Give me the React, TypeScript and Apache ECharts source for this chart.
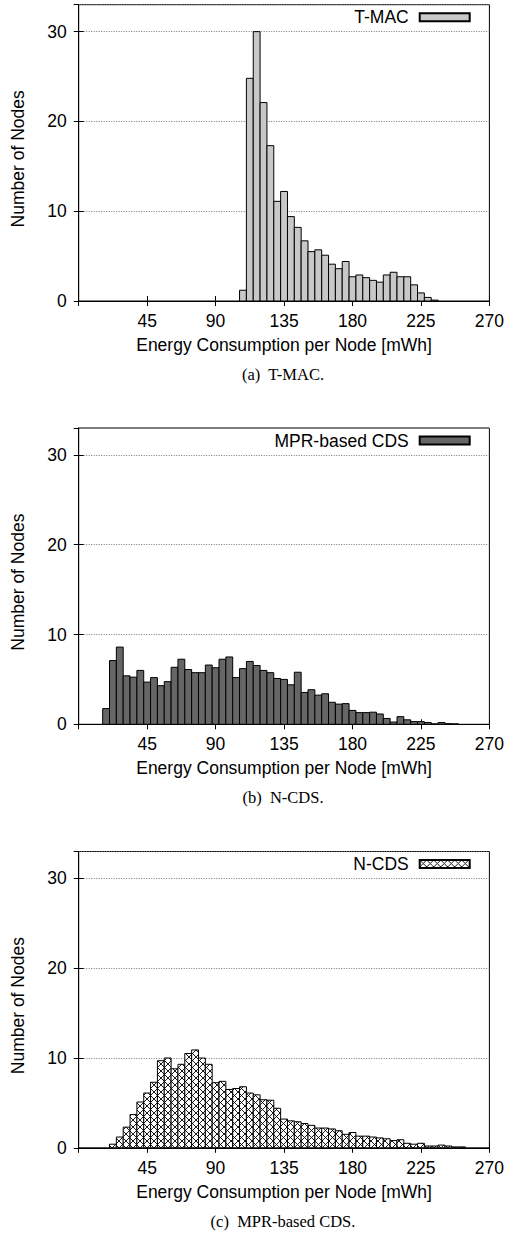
import React, { useEffect, useRef } from 'react';
import * as echarts from 'echarts';

// Histogram bin width (mWh); bin k is centred at k * BIN_WIDTH
const BIN_WIDTH = 4.5;
const xTickValues = [0, 45, 90, 135, 180, 225, 270];
const yTickValues = [0, 10, 20, 30];

const seriesNames = ['T-MAC', 'MPR-based CDS', 'N-CDS'];
const captions = ['(a)  T-MAC.', '(b)  N-CDS.', '(c)  MPR-based CDS.'];

// counts per bin, k = 0 .. 60
const tmacCounts = [
  0, 0, 0, 0, 0, 0, 0, 0, 0, 0, 0, 0, 0, 0, 0, 0, 0, 0, 0, 0, 0, 0, 0, 0,
  1.2, 24.8, 30, 22.1, 17.3, 11.1, 12.2, 9.4, 8.2, 6.7, 5.5, 5.7, 5.1, 4.1, 3.6, 4.4,
  2.7, 2.9, 2.6, 2.3, 2.1, 2.9, 3.2, 2.7, 2.7, 1.8, 0.9, 0.4, 0.1,
  0, 0, 0, 0, 0, 0, 0, 0,
];
const mprCounts = [
  0, 0, 0, 0,
  1.75, 7.1, 8.6, 5.4, 5.25, 6.0, 4.7, 5.2, 4.3, 4.75, 6.35, 7.25, 6.1, 5.75, 5.75, 6.6,
  6.3, 7.25, 7.5, 5.2, 6.2, 7.0, 6.55, 6.0, 5.75, 5.1, 5.0, 4.4, 5.8, 3.55, 3.85, 3.25,
  3.4, 2.45, 2.25, 2.3, 1.55, 1.3, 1.3, 1.35, 1.15, 0.65, 0.25, 0.85, 0.5, 0.3, 0.3, 0.2,
  0.05, 0.2, 0.07, 0.05,
  0, 0, 0, 0, 0,
];
const ncdsCounts = [
  0, 0, 0, 0, 0,
  0.4, 1.2, 2.3, 3.7, 5.1, 6.1, 7.3, 9.7, 10.0, 8.8, 9.3, 10.5, 10.9, 10.0, 9.3, 7.25,
  7.4, 6.5, 6.6, 6.8, 6.1, 5.9, 5.35, 5.3, 4.4, 3.2, 3.0, 2.9, 2.7, 2.5, 2.2, 2.2,
  2.1, 1.9, 1.5, 1.7, 1.3, 1.3, 1.2, 1.1, 1.0, 0.8, 0.9, 0.5, 0.4, 0.5, 0.2, 0.2,
  0.3, 0.2, 0.1, 0.1,
  0, 0, 0, 0,
];

const FONT = '"Liberation Sans", Arial, Helvetica, sans-serif';
const SERIF = '"Liberation Serif", "Times New Roman", serif';

export default function App() {
  const ref = useRef<HTMLDivElement>(null);

  useEffect(() => {
    const chart = echarts.init(ref.current!, null, { renderer: 'svg' });

    const cv = document.createElement('canvas');
    cv.width = 7;
    cv.height = 7;
    const ctx = cv.getContext('2d')!;
    ctx.fillStyle = '#ffffff';
    ctx.fillRect(0, 0, 7, 7);
    ctx.strokeStyle = '#000000';
    ctx.lineWidth = 0.9;
    ctx.beginPath();
    ctx.moveTo(0, 0);
    ctx.lineTo(7, 7);
    ctx.moveTo(7, 0);
    ctx.lineTo(0, 7);
    ctx.stroke();
    const hatch: any = { image: cv, repeat: 'repeat', imageWidth: 7, imageHeight: 7 };

    const fills: any[] = ['#c8c8c8', '#666666', hatch];
    const allCounts = [tmacCounts, mprCounts, ncdsCounts];
    const tops = [4.7, 428, 851.5];
    const plotH = 296.3;
    const plotLeft = 78.7;
    const plotW = 413;

    const grids: any[] = [];
    const xAxes: any[] = [];
    const yAxes: any[] = [];
    const series: any[] = [];
    const legends: any[] = [];
    const graphics: any[] = [];

    for (let i = 0; i < 3; i++) {
      grids.push({
        left: plotLeft,
        width: plotW,
        top: tops[i],
        height: plotH,
        show: true,
        borderColor: '#000',
        borderWidth: 1,
        backgroundColor: 'transparent',
      });
      const xBase = {
        type: 'value',
        gridIndex: i,
        min: xTickValues[0],
        max: xTickValues[xTickValues.length - 1],
        interval: 45,
        axisLine: { show: true, lineStyle: { color: '#000', width: 1 } },
        axisTick: { show: true, inside: true, length: 5, lineStyle: { color: '#000' } },
        splitLine: { show: false },
      };
      xAxes.push({
        ...xBase,
        position: 'bottom',
        name: 'Energy Consumption per Node [mWh]',
        nameLocation: 'middle',
        nameGap: 35,
        nameTextStyle: { fontFamily: FONT, fontSize: 17.5, color: '#000' },
        axisLabel: {
          show: true,
          margin: 11,
          fontFamily: FONT,
          fontSize: 17.5,
          color: '#000',
          formatter: (v: number) => (v === 0 ? '' : String(v)),
        },
      });
      xAxes.push({
        ...xBase,
        position: 'top',
        axisLabel: { show: false },
      });
      const yBase = {
        type: 'value',
        gridIndex: i,
        min: yTickValues[0],
        max: 33,
        interval: 10,
        axisLine: { show: true, lineStyle: { color: '#000', width: 1 } },
        axisTick: { show: true, inside: true, length: 5, lineStyle: { color: '#000' } },
      };
      yAxes.push({
        ...yBase,
        position: 'left',
        name: 'Number of Nodes',
        nameLocation: 'middle',
        nameGap: 52,
        nameTextStyle: { fontFamily: FONT, fontSize: 17.5, color: '#000', padding: [0, 12, 0, 0] },
        axisLabel: {
          show: true,
          margin: 12,
          fontFamily: FONT,
          fontSize: 17.5,
          color: '#000',
          showMaxLabel: false,
        },
        splitLine: { show: true, lineStyle: { color: '#777', width: 1, type: [1, 1.5] } },
      });
      yAxes.push({
        ...yBase,
        position: 'right',
        axisLabel: { show: false },
        splitLine: { show: false },
      });

      const counts = allCounts[i];
      series.push({
        type: 'custom',
        name: seriesNames[i],
        xAxisIndex: 2 * i,
        yAxisIndex: 2 * i,
        encode: { x: 0, y: 1 },
        itemStyle: { color: fills[i], borderColor: '#000', borderWidth: 1 },
        data: counts.map((c, k) => [k * BIN_WIDTH, c]),
        renderItem: (params: any, api: any) => {
          const x = api.value(0);
          const v = api.value(1);
          if (!v) return null;
          const p0 = api.coord([x - BIN_WIDTH / 2, v]);
          const p1 = api.coord([x + BIN_WIDTH / 2, 0]);
          return {
            type: 'rect',
            shape: { x: p0[0], y: p0[1], width: p1[0] - p0[0], height: p1[1] - p0[1] },
            style: api.style(),
          };
        },
      });

      legends.push({
        data: [seriesNames[i]],
        right: 36.3,
        top: tops[i] + 3.5,
        orient: 'horizontal',
        align: 'right',
        icon: 'rect',
        itemWidth: 50,
        itemHeight: 8,
        padding: 0,
        selectedMode: false,
        textStyle: { fontFamily: FONT, fontSize: 17.5, color: '#000', padding: [0, 6, 0, 0] },
      });

      graphics.push({
        type: 'text',
        x: 283,
        y: tops[i] + 369.8,
        style: {
          text: captions[i],
          font: `16.5px ${SERIF}`,
          fill: '#000',
          textAlign: 'center',
          textVerticalAlign: 'middle',
        },
      });
    }

    chart.setOption({
      animation: false,
      backgroundColor: '#fff',
      grid: grids,
      xAxis: xAxes,
      yAxis: yAxes,
      series,
      legend: legends,
      graphic: graphics,
    });

    return () => chart.dispose();
  }, []);

  return (
    <div
      ref={ref}
      style={{ position: 'absolute', left: 0, top: 0, width: 507, height: 1243 }}
    />
  );
}
